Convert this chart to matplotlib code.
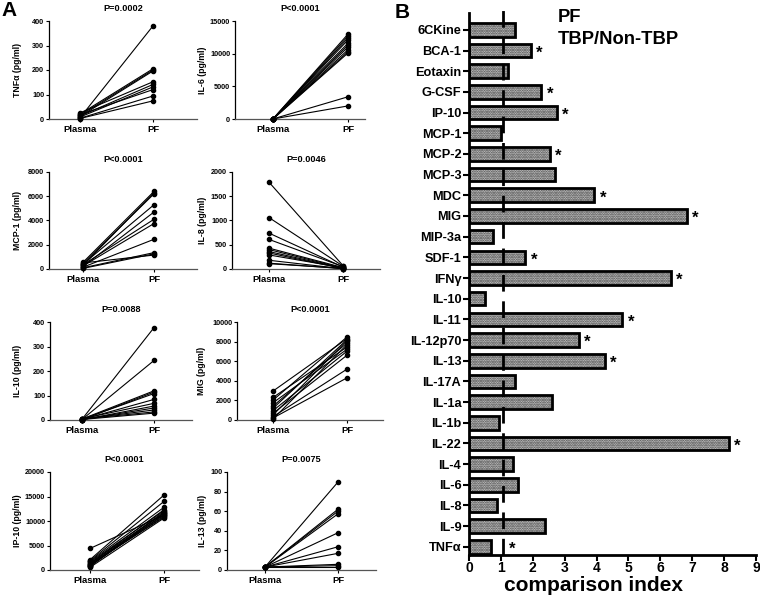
import numpy as np
import matplotlib
matplotlib.use("Agg")
import matplotlib.pyplot as plt

plt.rcParams['font.family'] = ['Liberation Sans', 'DejaVu Sans']
plt.rcParams['font.weight'] = 'bold'
plt.rcParams['axes.labelweight'] = 'bold'
plt.rcParams['axes.titleweight'] = 'bold'
plt.rcParams['hatch.linewidth'] = 1.2

# ---------------- Panel A data ----------------
groups = ["Plasma", "PF"]

tnfa_plasma = [5, 20, 15, 10, 25, 12, 8, 18, 3, 2]
tnfa_pf = [380, 205, 200, 196, 152, 141, 131, 120, 94, 74]

il6_plasma = [20, 15, 10, 5, 25, 12, 8, 18, 3, 2, 10, 5]
il6_pf = [13000, 12700, 12400, 12100, 11600, 11300, 11000, 10600, 10300, 10100, 3400, 2000]

mcp1_plasma = [550, 300, 450, 400, 200, 350, 250, 150, 100, 50, 500]
mcp1_pf = [6400, 6300, 6200, 5300, 4700, 4100, 3750, 2450, 1350, 1250, 1150]

il8_plasma = [1790, 1060, 740, 610, 430, 400, 360, 330, 290, 180, 120, 110]
il8_pf = [70, 60, 40, 50, 30, 20, 15, 10, 25, 5, 8, 12]

il10_plasma = [3, 2, 4, 1, 3, 2, 5, 1, 2, 3, 4, 2]
il10_pf = [377, 243, 119, 114, 108, 84, 68, 57, 49, 41, 33, 28]

mig_plasma = [2950, 2300, 2030, 1760, 1420, 1190, 950, 680, 510, 340, 200, 100]
mig_pf = [8300, 7450, 8475, 7220, 7860, 8200, 7020, 6610, 8100, 5190, 4300, 7700]

ip10_plasma = [4400, 2100, 1900, 1760, 1600, 1420, 1250, 1100, 900, 750, 540, 1300, 1000, 800]
ip10_pf = [11200, 15300, 14000, 12800, 12100, 11600, 11200, 10800, 11900, 11400, 10600, 12300, 11000, 11700]

il13_plasma = [3, 3, 3, 3, 3, 3, 3, 3, 3, 3]
il13_pf = [89.8, 62, 60, 57.3, 38, 23.7, 17, 5.8, 4.4, 3]

panel_ylabels = ["TNFα (pg/ml)", "IL-6 (pg/ml)", "MCP-1 (pg/ml)", "IL-8 (pg/ml)",
                 "IL-10 (pg/ml)", "MIG (pg/ml)", "IP-10 (pg/ml)", "IL-13 (pg/ml)"]
panel_titles = ["P=0.0002", "P<0.0001", "P<0.0001", "P=0.0046",
                "P=0.0088", "P<0.0001", "P<0.0001", "P=0.0075"]
panel_yticks = [[0, 100, 200, 300, 400], [0, 5000, 10000, 15000],
                [0, 2000, 4000, 6000, 8000], [0, 500, 1000, 1500, 2000],
                [0, 100, 200, 300, 400], [0, 2000, 4000, 6000, 8000, 10000],
                [0, 5000, 10000, 15000, 20000], [0, 20, 40, 60, 80, 100]]
panel_data = [(tnfa_plasma, tnfa_pf), (il6_plasma, il6_pf), (mcp1_plasma, mcp1_pf),
              (il8_plasma, il8_pf), (il10_plasma, il10_pf), (mig_plasma, mig_pf),
              (ip10_plasma, ip10_pf), (il13_plasma, il13_pf)]

# ---------------- Panel B data ----------------
cytokines = ["6CKine", "BCA-1", "Eotaxin", "G-CSF", "IP-10", "MCP-1", "MCP-2", "MCP-3",
             "MDC", "MIG", "MIP-3a", "SDF-1", "IFNγ", "IL-10", "IL-11", "IL-12p70",
             "IL-13", "IL-17A", "IL-1a", "IL-1b", "IL-22", "IL-4", "IL-6", "IL-8",
             "IL-9", "TNFα"]
comparison_index = [1.43, 1.94, 1.22, 2.27, 2.76, 1.00, 2.54, 2.70,
                    3.93, 6.83, 0.76, 1.77, 6.32, 0.49, 4.80, 3.44,
                    4.26, 1.44, 2.60, 0.93, 8.14, 1.38, 1.55, 0.88,
                    2.39, 0.68]
significant = [False, True, False, True, True, False, True, False,
               True, True, False, True, True, False, True, True,
               True, False, False, False, True, False, False, False,
               False, True]
reference_line = 1.07
xticks_b = list(range(0, 10))

# ---------------- Layout ----------------
W, H = 760, 595
fig = plt.figure(figsize=(W / 100, H / 100), dpi=100)


def rect(L, T, R, B):
    return [L / W, 1 - B / H, (R - L) / W, (B - T) / H]


# (left, top, right, bottom, plasma_px, pf_px, ylabel_px)
layouts = [
    (49, 21, 197, 119, 80, 153, 22),
    (235, 21, 365, 119, 273, 348, 207),
    (49, 172, 197, 269, 83, 154, 22),
    (232, 172, 380, 269, 269, 343, 207),
    (50, 322, 192, 420, 82, 154, 22),
    (237, 322, 383, 420, 273, 347, 206),
    (50, 472, 199, 570, 90, 164, 22),
    (227, 472, 376, 570, 265, 338, 207),
]

for i, ((pl, pf), lay) in enumerate(zip(panel_data, layouts)):
    L, T, R, B, xp, xf, xl = lay
    ax = fig.add_axes(rect(L, T, R, B))
    span = xf - xp
    ax.set_xlim(-(xp - L) / span, (R - xp) / span)
    yt = panel_yticks[i]
    ax.set_ylim(0, yt[-1])
    for a, b in zip(pl, pf):
        ax.plot([0, 1], [a, b], color='black', lw=0.8, marker='o', ms=3.0,
                clip_on=False, zorder=3)
    ax.set_xticks([0, 1])
    ax.set_xticklabels(groups, fontsize=6.8, fontweight='bold')
    ax.set_yticks(yt)
    ax.set_yticklabels([str(v) for v in yt], fontsize=5.2, fontweight='bold')
    ax.tick_params(axis='y', length=2.5, width=0.8, pad=1)
    ax.tick_params(axis='x', length=2.5, width=0.8, pad=2)
    for s in ['top', 'right']:
        ax.spines[s].set_visible(False)
    ax.spines['left'].set_linewidth(0.9)
    ax.spines['bottom'].set_linewidth(0.9)
    ax.spines['bottom'].set_color('#555555')
    ax.set_ylabel(panel_ylabels[i], fontsize=6.3, fontweight='bold')
    ax.yaxis.set_label_coords((xl - L) / (R - L), 0.5)
    ax.set_title(panel_titles[i], fontsize=6.6, fontweight='bold', pad=7)

fig.text(1 / W, 1 - 10 / H, "A", fontsize=15, fontweight='bold', va='center', ha='left')
fig.text(395 / W, 1 - 12 / H, "B", fontsize=15, fontweight='bold', va='center', ha='left')

# ---------------- Panel B ----------------
axb = fig.add_axes(rect(469, 13, 756, 555))
y = np.arange(len(cytokines))
axb.barh(y, comparison_index, height=0.66, color='#d4d4d4', edgecolor='#3a3a3a',
         hatch='.......', linewidth=0, zorder=2)
axb.barh(y, comparison_index, height=0.66, fill=False, edgecolor='black',
         linewidth=2.0, zorder=3)
axb.set_ylim(len(cytokines) - 1 + 0.4, -0.82)
axb.set_xlim(0, 9)
axb.plot([reference_line, reference_line], [len(cytokines) - 1 + 0.4, -1.15],
         color='black', lw=2, dashes=(6, 3.5), clip_on=False, zorder=4)
for yi, v, sig in zip(y, comparison_index, significant):
    if sig:
        axb.text(max(v, reference_line) + 0.27, yi + 0.12, "*", fontsize=12,
                 fontweight='bold', ha='center', va='center')
axb.set_yticks(y)
axb.set_yticklabels(cytokines, fontsize=9.2, fontweight='bold')
axb.set_xticks(xticks_b)
axb.set_xticklabels([str(v) for v in xticks_b], fontsize=10, fontweight='bold')
axb.tick_params(axis='y', length=4, width=1.5, pad=1.5)
axb.tick_params(axis='x', length=4, width=1.5, pad=0.5)
for s in ['top', 'right']:
    axb.spines[s].set_visible(False)
axb.spines['left'].set_linewidth(2)
axb.spines['bottom'].set_linewidth(2)
fig.text(593 / W, 1 - 591 / H, "comparison index", fontsize=15, fontweight='bold',
         ha='center', va='baseline')
axb.text(558 / W, 1 - 17 / H, "PF", transform=fig.transFigure, fontsize=13.2,
         fontweight='bold', va='center', ha='left')
axb.text(558 / W, 1 - 39 / H, "TBP/Non-TBP", transform=fig.transFigure, fontsize=13.2,
         fontweight='bold', va='center', ha='left')

fig.savefig("out.png", dpi=100)
